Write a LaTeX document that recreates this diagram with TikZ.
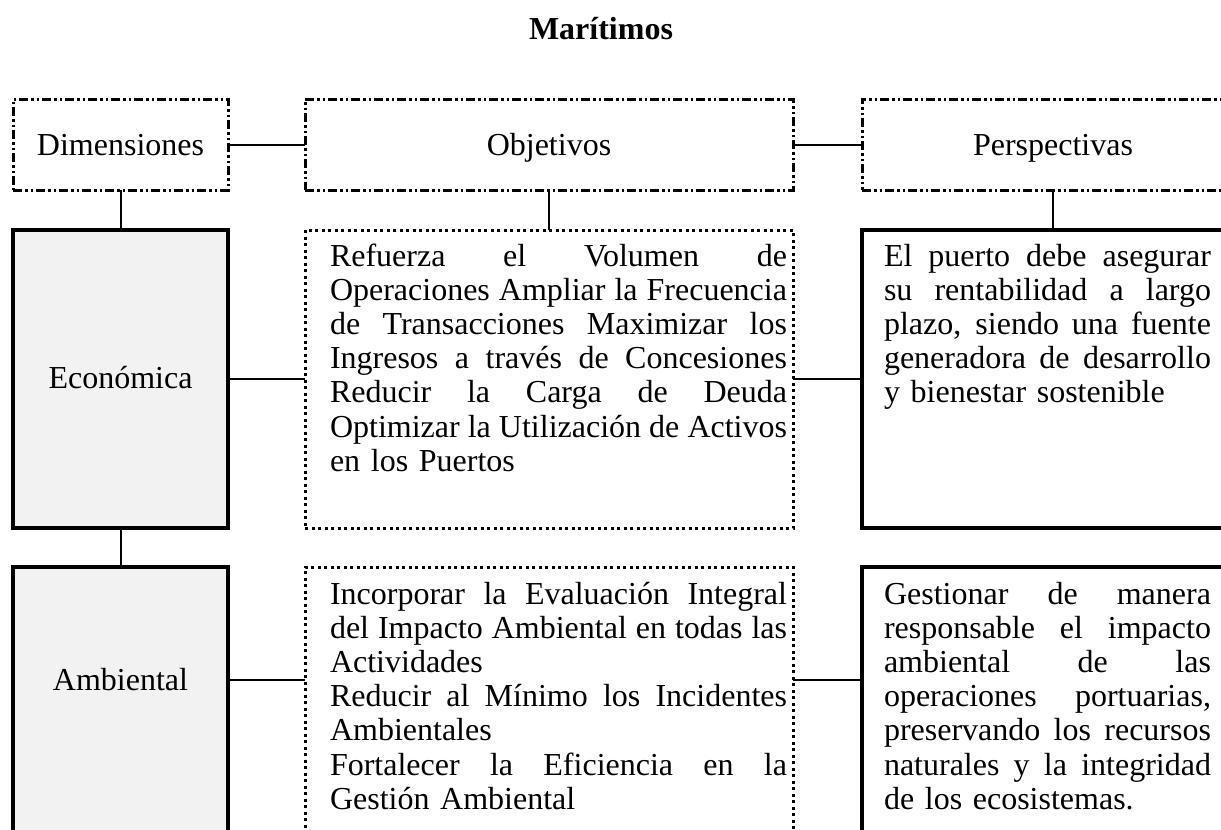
\documentclass[tikz,border=0pt]{standalone}
\usepackage{fontspec}
\setmainfont{Liberation Serif}
\definecolor{lightgr}{HTML}{F2F2F2}
\newcommand\jm[1]{{\spaceskip=0pt\xspaceskip=0pt\makebox[457pt][s]{#1}}}
\newcommand\jr[1]{{\spaceskip=0pt\xspaceskip=0pt\makebox[327pt][s]{#1}}}
\begin{document}
\begin{tikzpicture}[x=1pt,y=-1pt,
  every node/.style={font=\fontsize{32}{34.2}\selectfont, inner sep=0pt, outer sep=0pt},
  headbox/.style={draw, line width=3pt, dash pattern=on 9pt off 3pt on 2.5pt off 3pt on 2.5pt off 3pt},
  dimbox/.style={draw, line width=4pt, fill=lightgr},
  objbox/.style={draw, line width=3pt, dash pattern=on 3pt off 3.5pt},
  perbox/.style={draw, line width=4pt},
  txt/.style={anchor=base west, align=left},
  lbl/.style={anchor=base},
  conn/.style={draw, line width=2pt}
]
\useasboundingbox (0,0) rectangle (1221,830);
\clip (0,0) rectangle (1221,830);
\fill[white] (0,0) rectangle (1221,830);

\node[lbl, font=\fontsize{32}{34}\selectfont\bfseries] (title) at (601,39) {Marítimos};

% header row
\node[headbox, minimum width=215pt, minimum height=91pt] (dim) at (120.5,144.5) {};
\node[headbox, minimum width=488pt, minimum height=91pt] (obj) at (549,144.5) {};
\node[headbox, minimum width=382pt, minimum height=91pt] (per) at (1053,144.5) {};
\node[lbl] (dimt) at (120.5,155) {Dimensiones};
\node[lbl] (objt) at (549,155) {Objetivos};
\node[lbl] (pert) at (1053,155) {Perspectivas};

% row 1
\node[dimbox, minimum width=215pt, minimum height=298pt] (eco) at (120.5,379) {};
\node[objbox, minimum width=488pt, minimum height=298pt] (m1) at (549,379) {};
\node[perbox, minimum width=382pt, minimum height=298pt] (r1) at (1053,379) {};
\node[lbl] (ecot) at (120.5,388) {Económica};
\node[txt, text width=457pt] (m1t) at (330,266) {%
\jm{Refuerza el Volumen de}\\
\jm{Operaciones Ampliar la Frecuencia}\\
\jm{de Transacciones Maximizar los}\\
\jm{Ingresos a través de Concesiones}\\
\jm{Reducir la Carga de Deuda}\\
\jm{Optimizar la Utilización de Activos}\\
en los Puertos};
\node[txt, text width=327pt] (r1t) at (884,266) {%
\jr{El puerto debe asegurar}\\
\jr{su rentabilidad a largo}\\
\jr{plazo, siendo una fuente}\\
\jr{generadora de desarrollo}\\
y bienestar sostenible};

% row 2
\node[dimbox, minimum width=215pt, minimum height=333pt] (amb) at (120.5,733.5) {};
\node[objbox, minimum width=488pt, minimum height=333pt] (m2) at (549,733.5) {};
\node[perbox, minimum width=382pt, minimum height=333pt] (r2) at (1053,733.5) {};
\node[lbl] (ambt) at (120.5,690) {Ambiental};
\node[txt, text width=457pt] (m2t) at (330,604) {%
\jm{Incorporar la Evaluación Integral}\\
\jm{del Impacto Ambiental en todas las}\\
Actividades\\
\jm{Reducir al Mínimo los Incidentes}\\
Ambientales\\
\jm{Fortalecer la Eficiencia en la}\\
Gestión Ambiental};
\node[txt, text width=327pt] (r2t) at (884,604) {%
\jr{Gestionar de manera}\\
\jr{responsable el impacto}\\
\jr{ambiental de las}\\
\jr{operaciones portuarias,}\\
\jr{preservando los recursos}\\
\jr{naturales y la integridad}\\
de los ecosistemas.};

% connectors
\coordinate (row2) at (0,680);
\draw[conn] (dim.east) -- (obj.west);
\draw[conn] (obj.east) -- (per.west);
\draw[conn] (dim.south) -- (eco.north);
\draw[conn] (obj.south) -- (m1.north);
\draw[conn] (per.south) -- (r1.north);
\draw[conn] (eco.south) -- (amb.north);
\draw[conn] (eco.east) -- (m1.west);
\draw[conn] (m1.east) -- (r1.west);
\draw[conn] (amb.east |- row2) -- (m2.west |- row2);
\draw[conn] (m2.east |- row2) -- (r2.west |- row2);
\end{tikzpicture}
\end{document}
